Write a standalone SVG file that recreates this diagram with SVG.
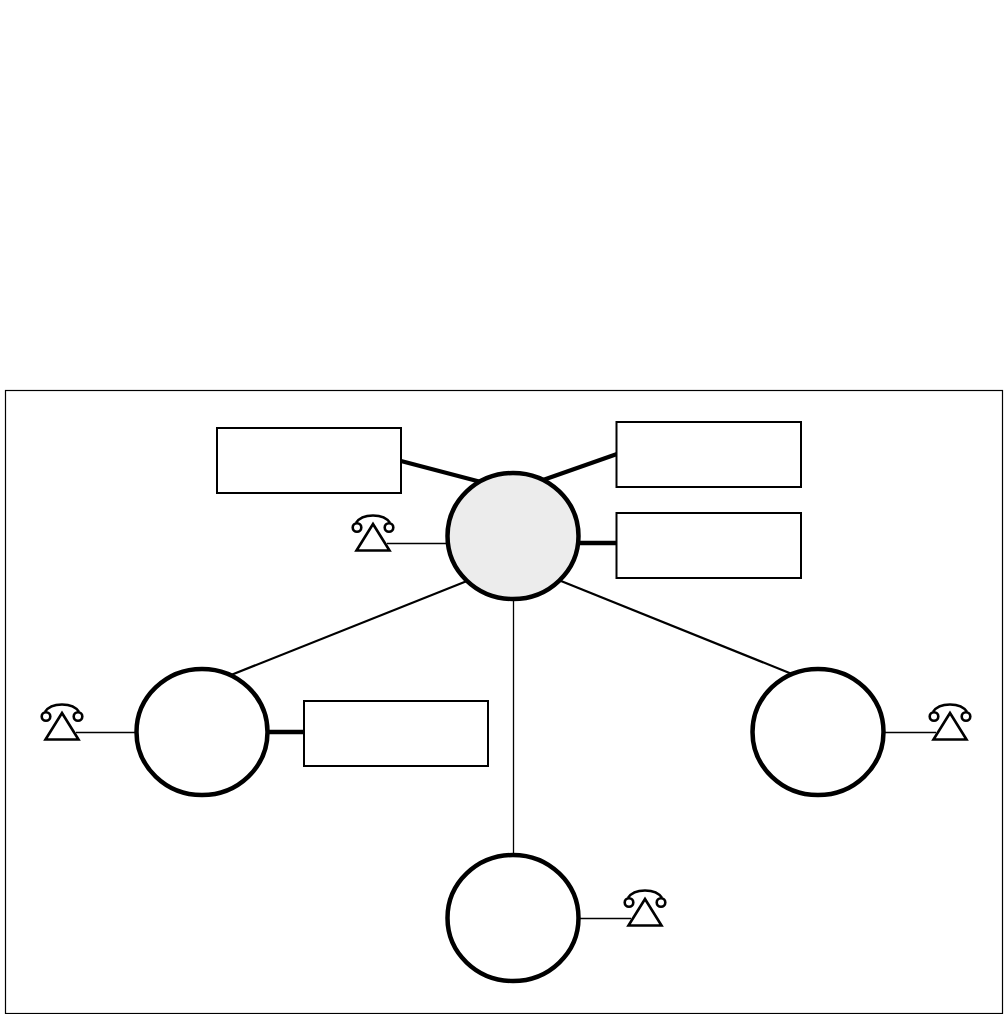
<svg xmlns="http://www.w3.org/2000/svg" width="1008" height="1014" viewBox="0 0 1008 1014">
<style>
.box{fill:#fff;stroke:#000;stroke-width:2}
.node{fill:#fff;stroke:#000;stroke-width:4.500}
.thin{stroke:#000;stroke-width:1.300;fill:none}
.mid{stroke:#000;stroke-width:2.200;fill:none}
.thick{stroke:#000;stroke-width:4.300;fill:none}
.ph{fill:none;stroke:#000;stroke-width:2.600}
</style>
<defs>
<g id="phone">
<path class="ph" d="M-17 -2C-11 -12 11 -12 17 -2"/>
<circle class="ph" cx="-16" cy="2.500" r="4.300"/>
<circle class="ph" cx="16" cy="2.500" r="4.300"/>
<path class="ph" d="M0 -1L16.500 25.500H-16.500Z"/>
</g>
</defs>
<rect width="1008" height="1014" fill="#fff"/>
<rect id="frame" x="5.500" y="390.500" width="997" height="623" fill="none" stroke="#000" stroke-width="1.200"/>
<g id="connectors">
<path class="thick" d="M401 461L481 482"/>
<path class="thick" d="M543 480L617 454"/>
<path class="thick" d="M578 543H617"/>
<path class="thick" d="M267 732H304"/>
<path class="mid" d="M231 675L467 581"/>
<path class="mid" d="M792 674L561 581"/>
<path class="thin" d="M513.500 600V856"/>
<path class="thin" d="M387 543.500H448"/>
<path class="thin" d="M76 732.500H136"/>
<path class="thin" d="M884 732.500H936"/>
<path class="thin" d="M579 918.500H631"/>
</g>
<g id="box-a"><rect class="box" x="217" y="428" width="184" height="65"/></g>
<g id="box-b"><rect class="box" x="616.500" y="422" width="184.500" height="65"/></g>
<g id="box-c"><rect class="box" x="616.500" y="513" width="184.500" height="65"/></g>
<g id="box-d"><rect class="box" x="304" y="701" width="184" height="65"/></g>
<g id="node-center"><ellipse class="node" cx="513" cy="536" rx="65.500" ry="63" style="fill:#ececec"/></g>
<g id="node-left"><ellipse class="node" cx="202" cy="732" rx="65.500" ry="63"/></g>
<g id="node-right"><ellipse class="node" cx="818" cy="732" rx="65.500" ry="63"/></g>
<g id="node-bottom"><ellipse class="node" cx="513" cy="918" rx="65.500" ry="63"/></g>
<g id="phone-center"><use href="#phone" x="373" y="525"/></g>
<g id="phone-left"><use href="#phone" x="62" y="714"/></g>
<g id="phone-right"><use href="#phone" x="950" y="714"/></g>
<g id="phone-bottom"><use href="#phone" x="645" y="900"/></g>
</svg>
